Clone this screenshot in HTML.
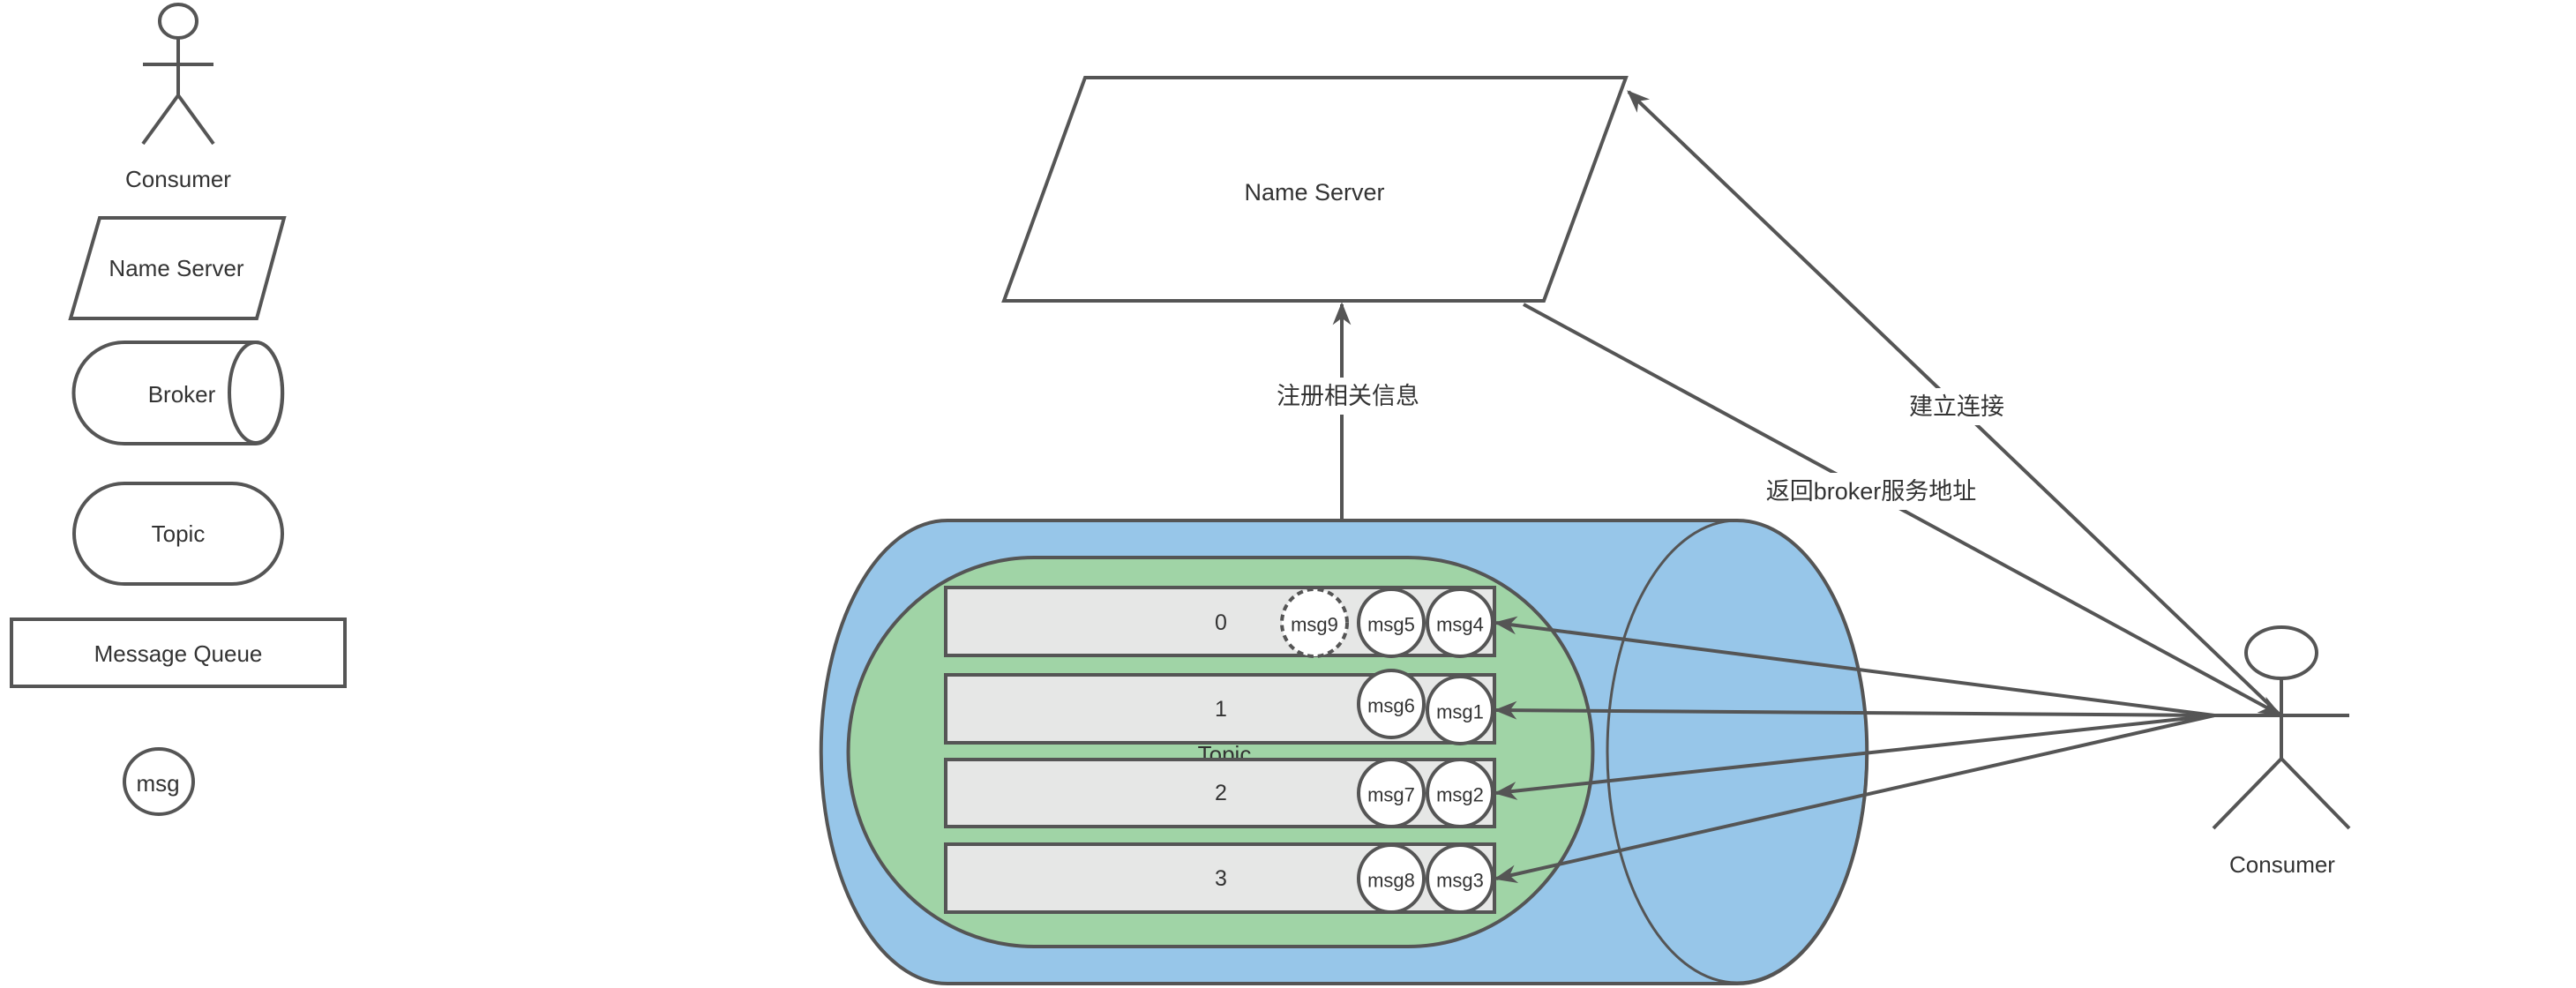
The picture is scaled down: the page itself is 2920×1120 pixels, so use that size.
<!DOCTYPE html>
<html><head><meta charset="utf-8"><style>
html,body{margin:0;padding:0;background:#fff}
svg{display:block}
text{font-family:"Liberation Sans","Noto Sans CJK SC",sans-serif;fill:#333;text-anchor:middle;dominant-baseline:central}
</style></head><body>
<svg width="2920" height="1120" viewBox="0 0 2920 1120" xmlns="http://www.w3.org/2000/svg">
<defs>
<marker id="a2" viewBox="0 0 10 10" refX="9" refY="5" markerWidth="26" markerHeight="26" orient="auto" markerUnits="userSpaceOnUse">
<path d="M0,1 L10,5 L0,9 L3,5 z" fill="#555"/>
</marker>
</defs>
<g stroke="#555" stroke-width="4" fill="#fff">
<!-- legend -->
<ellipse cx="202" cy="24" rx="21" ry="19"/>
<line x1="202" y1="43" x2="202" y2="108"/>
<line x1="162" y1="73" x2="242" y2="73"/>
<polyline points="162,163 202,108 242,163" fill="none"/>
<polygon points="113,247 322,247 291,361 80,361"/>
<path d="M141,388 L290,388 A30,57 0 0 1 290,503 L141,503 A57,57 0 0 1 141,388 Z"/>
<ellipse cx="290" cy="445" rx="30" ry="57" fill="none"/>
<rect x="84" y="548" width="236" height="114" rx="57" ry="57"/>
<rect x="13" y="702" width="378" height="76"/>
<ellipse cx="180" cy="886" rx="39" ry="37"/>
</g>
<text x="202" y="203" font-size="26">Consumer</text>
<text x="200" y="304" font-size="26">Name Server</text>
<text x="206" y="447" font-size="26">Broker</text>
<text x="202" y="605" font-size="26">Topic</text>
<text x="202" y="741" font-size="26">Message Queue</text>
<text x="179" y="888" font-size="26">msg</text>

<!-- name server -->
<polygon points="1230,88 1843,88 1750,341 1138,341" fill="#fff" stroke="#555" stroke-width="4"/>
<text x="1490" y="218" font-size="27">Name Server</text>

<!-- broker -->
<g stroke="#555" stroke-width="4">
<path d="M1074,590 L1969,590 A147,262 0 0 1 1969,1115 L1074,1115 A143,262 0 0 1 1074,590 Z" fill="#97c6e9"/>
<ellipse cx="1969" cy="852" rx="147" ry="262" fill="none" stroke-width="3"/>
<path d="M1172,632 L1596,632 A209,220 0 0 1 1596,1073 L1172,1073 A210,220 0 0 1 1172,632 Z" fill="#a0d4a6"/>
</g>
<text x="1388" y="855" font-size="26" fill="#333">Topic</text>
<g stroke="#555" stroke-width="4" fill="#e6e7e6">
<rect x="1072" y="666" width="622" height="77"/>
<rect x="1072" y="765" width="622" height="77"/>
<rect x="1072" y="861" width="622" height="76"/>
<rect x="1072" y="957" width="622" height="77"/>
</g>
<g font-size="25">
<text x="1384" y="706">0</text>
<text x="1384" y="804">1</text>
<text x="1384" y="899">2</text>
<text x="1384" y="996">3</text>
</g>
<g stroke="#555" stroke-width="4" fill="#fff">
<ellipse cx="1490" cy="706" rx="37" ry="38" stroke-dasharray="7,5"/>
<ellipse cx="1577" cy="706" rx="37" ry="38"/>
<ellipse cx="1655" cy="706" rx="37" ry="38"/>
<ellipse cx="1577" cy="798" rx="37" ry="38"/>
<ellipse cx="1655" cy="805" rx="37" ry="38"/>
<ellipse cx="1577" cy="899" rx="37" ry="38"/>
<ellipse cx="1655" cy="899" rx="37" ry="38"/>
<ellipse cx="1577" cy="996" rx="37" ry="38"/>
<ellipse cx="1655" cy="996" rx="37" ry="38"/>
</g>
<g font-size="22">
<text x="1490" y="708">msg9</text>
<text x="1577" y="708">msg5</text>
<text x="1655" y="708">msg4</text>
<text x="1577" y="800">msg6</text>
<text x="1655" y="807">msg1</text>
<text x="1577" y="901">msg7</text>
<text x="1655" y="901">msg2</text>
<text x="1577" y="998">msg8</text>
<text x="1655" y="998">msg3</text>
</g>

<!-- consumer right -->
<g stroke="#555" stroke-width="4" fill="#fff">
<ellipse cx="2586" cy="740" rx="40" ry="29"/>
<line x1="2586" y1="769" x2="2586" y2="860"/>
<line x1="2510" y1="811" x2="2663" y2="811"/>
<polyline points="2509,939 2586,860 2663,939" fill="none"/>
</g>
<text x="2587" y="980" font-size="26">Consumer</text>

<!-- connectors -->
<g stroke="#555" stroke-width="4" fill="none">
<line x1="2510" y1="811" x2="1696" y2="706" marker-end="url(#a2)"/>
<line x1="2510" y1="811" x2="1696" y2="805" marker-end="url(#a2)"/>
<line x1="2510" y1="811" x2="1696" y2="899" marker-end="url(#a2)"/>
<line x1="2510" y1="811" x2="1696" y2="996" marker-end="url(#a2)"/>
<line x1="1521" y1="589" x2="1521" y2="345" marker-end="url(#a2)"/>
<line x1="1727" y1="345" x2="2584" y2="810" marker-end="url(#a2)"/>
<line x1="2584" y1="810" x2="1846" y2="104" marker-end="url(#a2)"/>
</g>
<g font-size="27">
<rect x="1440" y="428" width="176" height="42" fill="#fff"/>
<text x="1528" y="449">注册相关信息</text>
<rect x="2160" y="440" width="116" height="42" fill="#fff"/>
<text x="2218" y="461">建立连接</text>
<rect x="1996" y="536" width="250" height="42" fill="#fff"/>
<text x="2121" y="557">返回broker服务地址</text>
</g>
</svg>
</body></html>
